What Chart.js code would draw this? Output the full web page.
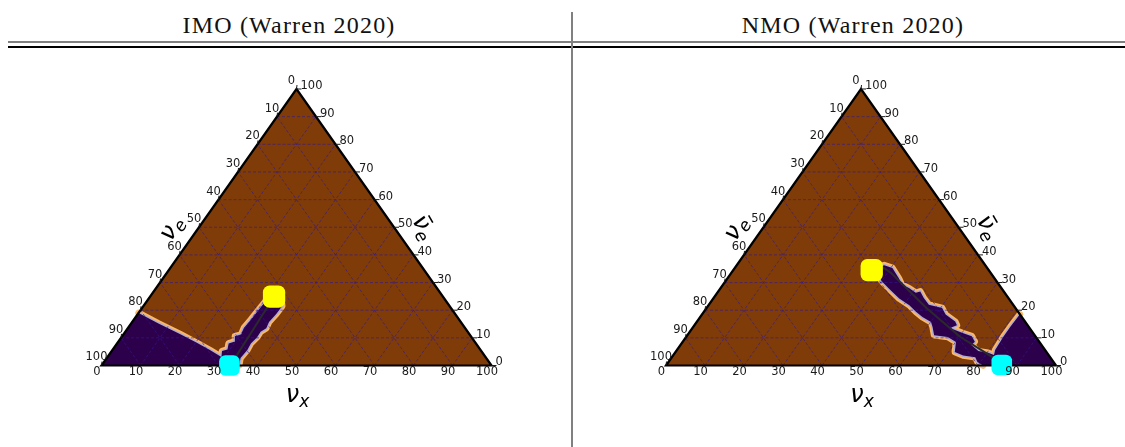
<!DOCTYPE html>
<html>
<head>
<meta charset="utf-8">
<script src="https://cdn.jsdelivr.net/npm/chart.js@4/dist/chart.umd.min.js"></script>
<style>
html,body{margin:0;padding:0;background:#fff;}
body{width:1125px;height:447px;overflow:hidden;position:relative;}
.title{position:absolute;top:10px;height:30px;line-height:30px;width:400px;text-align:center;
  font-family:"Liberation Serif",serif;font-size:24px;letter-spacing:1.2px;color:#111;}
.hl{position:absolute;left:8px;width:1117px;}
canvas{position:absolute;top:50px;}
</style>
</head>
<body>
<div class="title" id="t0" style="left:89px"></div>
<div class="title" id="t1" style="left:653px"></div>
<div class="hl" style="top:40.5px;height:2px;background:#808080"></div>
<div class="hl" style="top:46.3px;height:1.5px;background:#000"></div>
<div style="position:absolute;left:571px;top:12px;width:2px;height:435px;background:#808080"></div>
<canvas id="c0" width="571" height="397" style="left:0px;width:571px;height:397px"></canvas>
<canvas id="c1" width="552" height="397" style="left:573px;width:552px;height:397px"></canvas>
<script>
// ---- data (percent) ----
const panelTitles = ['IMO (Warren 2020)', 'NMO (Warren 2020)'];
const axisTicks = [0, 10, 20, 30, 40, 50, 60, 70, 80, 90, 100];
const gridLevels = [10, 20, 30, 40, 50, 60, 70, 80, 90];

// region boundaries as [nu_x, nu_e_bar]
const imoBoundary = [[0,19],[7,15.2],[14.4,11.4],[20,8.4],[25,5.6],[29.2,3.1],[28.3,5.2],[29.4,5.8],
  [28.6,8.0],[29.7,8.6],[28.9,10.6],[30.2,11.2],[29.7,13.6],[30.0,16.5],[30.2,19.7],[30.4,23.0],
  [31.0,25.5],[33.8,24.5],[35.6,21.5],[35.5,18.6],[35.1,15.7],[35.5,13.5],[34.7,12.2],[34.8,10.2],
  [34.3,8.0],[34.6,5.6],[34.3,2.7],[35.3,0]];
const imoCorner = [[0,0]];
const imoPath = [[33.0,0.3],[31.8,24.6]];
const imoStart = [31.8,24.9];
const imoEnd = [32.8,0.0];

const nmoBoundary = [[81.5,18.5],[81.3,14],[81.3,10.4],[81.6,5.6],[82.2,3.8],[80.3,4.6],[77.5,5.2],
  [74.6,7.4],[74.9,8.6],[73.1,10.6],[70.0,11.8],[66.0,13.6],[67.3,14.6],[66.2,15.9],[62.5,18.4],
  [60.4,20.8],[56.4,22.0],[53.9,24.4],[51.8,26.8],[50.9,26.3],[48.3,28.0],[45.9,29.2],[43.9,31.6],
  [40.4,35.3],[37.8,36.3],[36.0,35.0],[37.3,33.2],[40.4,30.2],[43.3,27.8],[47.7,24.2],[51.5,21.8],
  [54.4,19.4],[57.0,17.5],[60.1,15.7],[61.4,13.9],[63.3,10.9],[67.1,10.3],[70.1,8.5],[71.6,4.9],
  [74.4,3.6],[77.8,3.0],[79.2,1.3],[81.3,0]];
const nmoCorner = [[100,0]];
const nmoPath = [[35.9,34.5],[38.0,35.4],[41.2,33.3],[56.5,20.7],[70.2,10.4],[80.0,4.4],[86.0,0.5]];
const nmoStart = [35.5,34.5];
const nmoEnd = [86.0,0.2];

// ---- helpers ----
const T = (nx, eb) => ({x: nx + eb / 2, y: eb});
const pts = list => list.map(p => T(p[0], p[1]));

function gridData() {
  const d = [];
  gridLevels.forEach(v => {
    d.push(T(0, v), T(100 - v, v), {x: null, y: null});
    d.push(T(v, 0), T(v, 100 - v), {x: null, y: null});
    d.push(T(100 - v, 0), T(0, 100 - v), {x: null, y: null});
  });
  return d;
}

function lineDs(data, color, width, extra) {
  return Object.assign({data, showLine: true, borderColor: color, borderWidth: width,
    pointRadius: 0, pointHoverRadius: 0, fill: false, clip: false, tension: 0,
    borderJoinStyle: 'round', borderCapStyle: 'round'}, extra || {});
}

function drawNu(ctx, cx, cy, deg, bar, sub) {
  ctx.save();
  ctx.translate(cx, cy);
  ctx.rotate(deg * Math.PI / 180);
  const big = 'italic 24px "DejaVu Sans"', small = 'italic 17px "DejaVu Sans"';
  ctx.font = big; const w1 = ctx.measureText('ν').width;
  ctx.font = small; const w2 = ctx.measureText(sub).width;
  const x0 = -(w1 + w2) / 2;
  ctx.fillStyle = '#000'; ctx.textAlign = 'left'; ctx.textBaseline = 'alphabetic';
  ctx.font = big; ctx.fillText('ν', x0, 5);
  if (bar) ctx.fillRect(x0 + 4, -13, w1 - 5, 1.6);
  ctx.font = small; ctx.fillText(sub, x0 + w1, 10);
  ctx.restore();
}

const ternaryText = {
  id: 'ternaryText',
  afterDatasetsDraw(chart) {
    const ctx = chart.ctx, xs = chart.scales.x, ys = chart.scales.y;
    const P = (nx, eb) => [xs.getPixelForValue(nx + eb / 2), ys.getPixelForValue(eb)];
    ctx.save();
    ctx.font = '11.5px "DejaVu Sans"';
    ctx.fillStyle = '#1a1a1a'; ctx.strokeStyle = '#1a1a1a'; ctx.lineWidth = 1;
    ctx.textBaseline = 'middle';
    axisTicks.forEach(v => {
      let [px, py] = P(v, 0);
      ctx.textAlign = 'center';
      ctx.fillText(String(v), px - 4.5, py + 6.5);
      [px, py] = P(0, 100 - v);
      ctx.beginPath(); ctx.moveTo(px, py); ctx.lineTo(px + 0.5, py - 4); ctx.stroke();
      ctx.fillText(String(v), px - 5, py - 8);
      [px, py] = P(100 - v, v);
      ctx.beginPath(); ctx.moveTo(px, py); ctx.lineTo(px + 5, py); ctx.stroke();
      ctx.textAlign = 'left';
      ctx.fillText(String(v), px + 4, py - 3);
    });
    let [bx, by] = P(50, 0);
    drawNu(ctx, bx + 1, by + 31, 0, false, 'x');
    let [lx, ly] = P(0, 50);
    drawNu(ctx, lx - 26, ly + 2, -60, false, 'e');
    let [rx, ry] = P(50, 50);
    drawNu(ctx, rx + 28, ry + 1, 60, true, 'e');
    ctx.restore();
  }
};

function makeChart(id, pad, boundary, corner, path, start, end) {
  const tri = [T(0,0), T(100,0), T(0,100), T(0,0), T(100,0)];
  const region = pts(boundary.concat(corner));
  new Chart(document.getElementById(id), {
    type: 'scatter',
    data: {datasets: [
      {data: [T(end[0], end[1])], pointStyle: 'rectRounded', pointRadius: 12, pointHoverRadius: 12,
        backgroundColor: '#00ffff', borderWidth: 0, clip: false},
      {data: [T(start[0], start[1])], pointStyle: 'rectRounded', pointRadius: 13, pointHoverRadius: 13,
        backgroundColor: '#ffff00', borderWidth: 0, clip: false},
      lineDs(pts(path), '#2a2a2a', 2),
      lineDs(tri, '#000', 2.2, {borderJoinStyle: 'miter'}),
      lineDs(gridData(), 'rgba(48,24,150,0.75)', 0.8, {borderDash: [3, 2], spanGaps: false, borderCapStyle: 'butt'}),
      lineDs(region, 'rgba(0,0,0,0)', 1, {fill: 'shape', backgroundColor: '#2d004b'}),
      lineDs(pts(boundary), '#b2abd2', 3),
      lineDs(pts(boundary), '#fdb863', 6.5),
      lineDs(tri, 'rgba(0,0,0,0)', 1, {fill: 'shape', backgroundColor: '#7f3b08'})
    ]},
    options: {
      responsive: false, maintainAspectRatio: false, animation: false, devicePixelRatio: 1,
      layout: {padding: pad},
      scales: {
        x: {type: 'linear', min: 0, max: 100, display: false},
        y: {type: 'linear', min: 0, max: 100, display: false}
      },
      plugins: {legend: {display: false}, tooltip: {enabled: false}},
      events: []
    },
    plugins: [ternaryText]
  });
}

document.getElementById('t0').textContent = panelTitles[0];
document.getElementById('t1').textContent = panelTitles[1];
makeChart('c0', {left: 101.5, right: 79.5, top: 39, bottom: 81.5}, imoBoundary, imoCorner, imoPath, imoStart, imoEnd);
makeChart('c1', {left: 93, right: 69, top: 39, bottom: 81.5}, nmoBoundary, nmoCorner, nmoPath, nmoStart, nmoEnd);
</script>
</body>
</html>
